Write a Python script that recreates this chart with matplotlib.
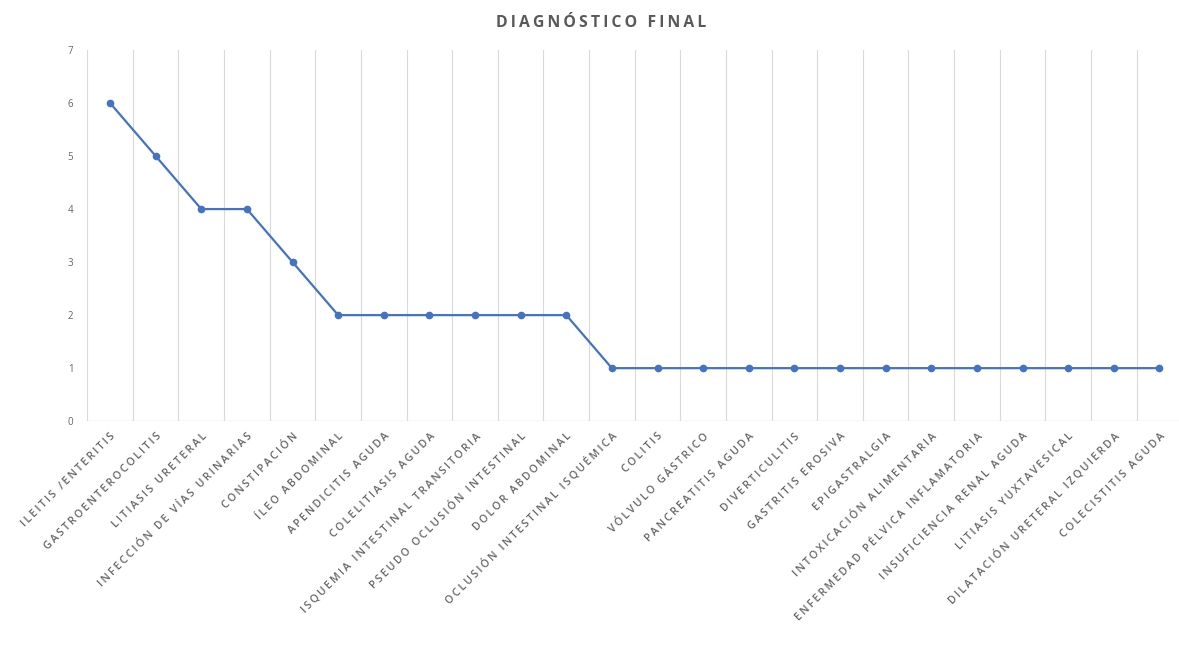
import matplotlib.pyplot as plt
import numpy as np

# diagnosis categories and case counts
diagnosticos = [
    "ILEITIS /ENTERITIS", "GASTROENTEROCOLITIS", "LITIASIS URETERAL",
    "INFECCIÓN DE VÍAS URINARIAS", "CONSTIPACIÓN", "ÍLEO ABDOMINAL",
    "APENDICITIS AGUDA", "COLELITIASIS AGUDA", "ISQUEMIA INTESTINAL TRANSITORIA",
    "PSEUDO OCLUSIÓN INTESTINAL", "DOLOR ABDOMINAL", "OCLUSIÓN INTESTINAL ISQUÉMICA",
    "COLITIS", "VÓLVULO GÁSTRICO", "PANCREATITIS AGUDA", "DIVERTICULITIS",
    "GASTRITIS EROSIVA", "EPIGASTRALGIA", "INTOXICACIÓN ALIMENTARIA",
    "ENFERMEDAD PÉLVICA INFLAMATORIA", "INSUFICIENCIA RENAL AGUDA",
    "LITIASIS YUXTAVESICAL", "DILATACIÓN URETERAL IZQUIERDA", "COLECISTITIS AGUDA",
]
casos = [6, 5, 4, 4, 3, 2, 2, 2, 2, 2, 2, 1,
         1, 1, 1, 1, 1, 1, 1, 1, 1, 1, 1, 1]

gris = "#595959"
rejilla = "#D9D9D9"
azul = "#4472C4"
fuente = ["Open Sans", "DejaVu Sans"]


def espaciado(txt):
    # widen the tracking with thin spaces between letters
    return "\u2009".join(txt)


fig = plt.figure(figsize=(11.79, 6.45), dpi=100)
ax = fig.add_axes([0.074, 0.347, 0.926, 0.5755])

x = np.arange(len(casos))
ax.plot(x, casos, color=azul, lw=1.6, marker="o", ms=4.5,
        markerfacecolor=azul, markeredgecolor=azul, zorder=3)

ax.set_xlim(-0.5, len(casos) - 0.57)
ax.set_ylim(0, 7)

# vertical lines between categories
for b in np.arange(-0.5, len(casos), 1.0):
    ax.axvline(b, color=rejilla, lw=0.8, zorder=1)
ax.axhline(0, color=rejilla, lw=1.0, zorder=2)

for s in ax.spines.values():
    s.set_visible(False)

ax.set_yticks(range(0, 8))
ax.set_yticklabels([str(v) for v in range(0, 8)], fontsize=7,
                   color="#666666", family=fuente)
ax.tick_params(axis="y", length=0, pad=10)

ax.set_xticks(x)
ax.set_xticklabels([espaciado(d) for d in diagnosticos], rotation=45,
                   ha="right", rotation_mode="anchor", fontsize=7.7,
                   color="#666666", family=fuente, fontweight="semibold")
ax.tick_params(axis="x", length=0, pad=7)

fig.text(0.51, 0.965, espaciado("DIAGNÓSTICO FINAL"), ha="center",
         va="center", fontsize=11.3, fontweight="bold", color=gris,
         family=fuente)

fig.savefig("out.png", dpi=100)
